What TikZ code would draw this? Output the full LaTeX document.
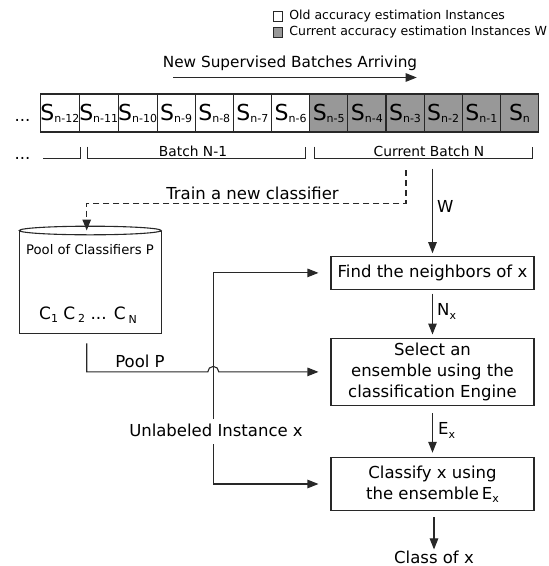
\documentclass[tikz,border=0pt]{standalone}
\usepackage{fontspec}
\setmainfont{DejaVu Sans}
\usetikzlibrary{positioning,arrows.meta}

\definecolor{curgrey}{RGB}{152,152,152}
\definecolor{linegrey}{RGB}{40,40,40}
\newcommand{\lowidx}[2][2pt]{\raisebox{-#1}{\fontsize{11}{11}\selectfont #2}}

\tikzstyle{oldcell} = [draw=linegrey, fill=white, line width=1.1pt,
    rectangle, minimum width=38.15pt, minimum height=38pt, inner sep=0pt,
    outer sep=0pt, font=\fontsize{22}{22}\selectfont]
\tikzstyle{curcell} = [oldcell, fill=curgrey]
\tikzstyle{stepbox} = [draw=linegrey, fill=white, line width=1.1pt,
    rectangle, minimum width=203pt, align=center, inner sep=3pt,
    font=\fontsize{16.5}{21}\selectfont]
\tikzstyle{flow} = [draw=linegrey, line width=1.1pt, -{Triangle[length=11pt,width=8.5pt]}]
\tikzstyle{bracket} = [draw=linegrey, line width=0.9pt]
\tikzstyle{plain} = [inner sep=1pt, font=\fontsize{16.5}{20}\selectfont]
\tikzstyle{small} = [inner sep=0pt, font=\fontsize{13.8}{16}\selectfont]
\tikzstyle{legendtxt} = [inner sep=0pt, font=\fontsize{12.5}{14}\selectfont]

\begin{document}
\begin{tikzpicture}[x=1pt,y=-1pt]
\useasboundingbox (0,0) rectangle (549,566);
%------------ Legende ---------------------
\node [draw=linegrey, fill=white, line width=0.8pt, minimum size=9.5pt, inner sep=0pt] (oldkey) at (278,16.2) {};
\node [legendtxt, right=6pt of oldkey] (oldtxt) {Old accuracy estimation Instances};
\node [draw=linegrey, fill=curgrey, line width=0.8pt, minimum size=9.5pt, inner sep=0pt] (curkey) at (278,32.5) {};
\node [legendtxt, right=6pt of curkey] (curtxt) {Current accuracy estimation Instances W};

%------------ Ankommende Batches ---------------------
\node [plain, font=\fontsize{15.3}{18}\selectfont] (arrive) at (290,63) {New Supervised Batches Arriving};
\coordinate (arrstart) at (173,77.5);
\coordinate (arrend) at (416.7,77.5);
\draw [flow] (arrstart) -- (arrend);

%------------ Instanzen ---------------------
\node [plain, anchor=base] (dotsa) at (22.5,121) {...};
\node [oldcell] (c1) at (59.8,113) {S\lowidx{n-12}};
\node [oldcell, right=0pt of c1] (c2) {S\lowidx{n-11}};
\node [oldcell, right=0pt of c2] (c3) {S\lowidx{n-10}};
\node [oldcell, right=0pt of c3] (c4) {S\lowidx{n-9}};
\node [oldcell, right=0pt of c4] (c5) {S\lowidx{n-8}};
\node [oldcell, right=0pt of c5] (c6) {S\lowidx{n-7}};
\node [oldcell, right=0pt of c6] (c7) {S\lowidx{n-6}};
\node [curcell, right=0pt of c7] (c8) {S\lowidx{n-5}};
\node [curcell, right=0pt of c8] (c9) {S\lowidx{n-4}};
\node [curcell, right=0pt of c9] (c10) {S\lowidx{n-3}};
\node [curcell, right=0pt of c10] (c11) {S\lowidx{n-2}};
\node [curcell, right=0pt of c11] (c12) {S\lowidx{n-1}};
\node [curcell, right=0pt of c12] (c13) {S\lowidx{n}};

%------------ Batches ---------------------
\node [plain, anchor=base] (dotsb) at (22.5,159.5) {...};
\draw [bracket] (43,158.3) -- (80.7,158.3) -- (80.7,146.7);
\draw [bracket] (87.3,146.7) -- (87.3,158.3) -- (305,158.3) -- (305,146.7);
\draw [bracket] (314.3,146.7) -- (314.3,158.3) -- (532.7,158.3) -- (532.7,146.7);
\node [small] (batchold) at (193,151.7) {Batch N-1};
\node [small] (batchcur) at (429,151.7) {Current Batch N};

%------------ Pool ---------------------
\node [draw=linegrey, line width=1.1pt, minimum width=141.7pt, minimum height=102.3pt, inner sep=0pt] (pool) at (90.2,282.2) {};
\draw [draw=linegrey, line width=1.1pt, fill=white] (pool.north) ellipse [x radius=70.85pt, y radius=4.3pt];
\node [inner sep=0pt, font=\fontsize{13.2}{15}\selectfont] (poolname) at (90,249.3) {Pool of Classifiers P};
\node [inner sep=0pt, font=\fontsize{17}{17}\selectfont] (poolitems) at (88,315) {C\lowidx[3pt]{1} C\,\lowidx[3pt]{2} ... C\,\lowidx[4pt]{N}};

\coordinate (trainsrc) at (406,170);
\coordinate (trainbend) at (406,203.3);
\draw [flow, dash pattern=on 6pt off 4pt] (trainsrc) -- (trainbend) -| ([xshift=-3.5pt]pool.north);
\node [plain] (trainlbl) at (252.5,193) {Train a new classifier};

%------------ Ablauf ---------------------
\node [stepbox, minimum height=32.3pt] (find) at (432.5,272.9) {Find the neighbors of x};
\node [stepbox, minimum height=67.7pt] (select) at (432.5,371.9) {Select an\\ensemble using the\\classification Engine};
\node [stepbox, minimum height=53.4pt] (classify) at (432.5,484) {Classify x using\\the ensemble\,E\lowidx[3pt]{x}};
\node [plain] (classx) at (434,557) {Class of x};

\coordinate (wsrc) at (432.5,168.7);
\draw [flow, shorten >=3pt] (wsrc) -- (find.north);
\node [plain, anchor=west] (wlbl) at (436,206) {W};
\draw [flow, shorten <=4pt, shorten >=3pt] (find.south) -- (select.north);
\node [plain, anchor=west] (nxlbl) at (436,311) {N\lowidx[4pt]{x}};
\draw [flow, shorten <=7pt, shorten >=4pt] (select.south) -- (classify.north);
\node [plain, anchor=west] (exlbl) at (437,430) {E\lowidx[4pt]{x}};
\draw [flow, shorten <=6pt] (classify.south -| classx.north) -- (classx.north);

%------------ Eingaben ---------------------
\coordinate (xline) at (213.3,0);
\node [plain, fill=white, text height=12pt, text depth=3pt, inner sep=5pt] (unl) at (216,431.7) {Unlabeled Instance x};
\draw [flow, shorten >=12pt] (unl.north -| xline) |- (find.west);
\draw [flow, shorten >=12pt] (unl.south -| xline) |- (classify.west);
\path (xline |- select.west) coordinate (hop);
\draw [flow, shorten >=12pt] ([xshift=-3.5pt,yshift=-9.4pt]pool.south) |- ([xshift=-5.5pt]hop)
    arc [start angle=180, end angle=0, radius=5.5pt] -- (select.west);
\node [plain] (poollbl) at (140,361.7) {Pool P};
\end{tikzpicture}
\end{document}
